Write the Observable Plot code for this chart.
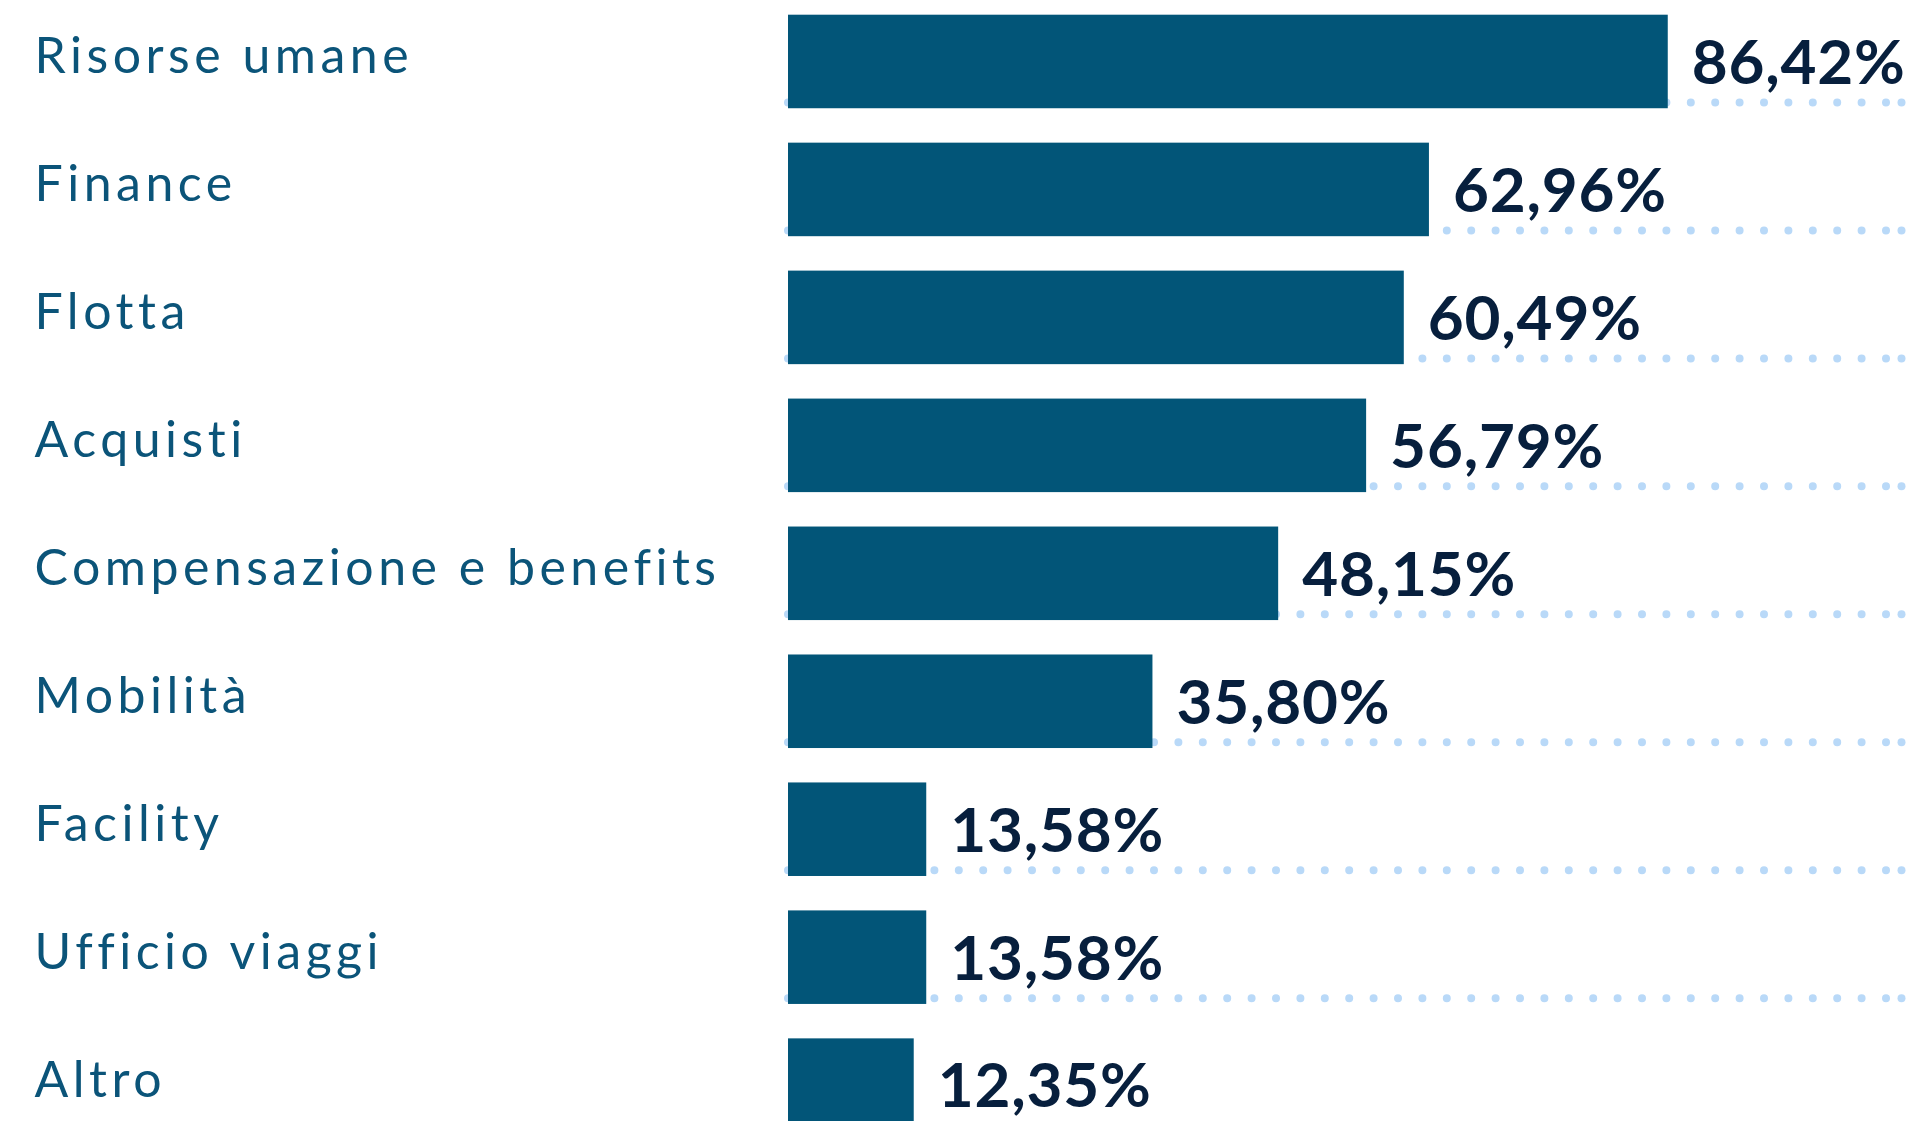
<!DOCTYPE html>
<html>
<head>
<meta charset="utf-8">
<script src="https://cdn.jsdelivr.net/npm/d3@7"></script>
<script src="https://cdn.jsdelivr.net/npm/@observablehq/plot@0.6"></script>
<style>
  html, body { margin: 0; padding: 0; background: #ffffff; overflow: hidden; }
  #chart svg { max-width: none; display: block; }
</style>
</head>
<body>
<div id="chart"></div>
<script>
const categories = ["Risorse umane", "Finance", "Flotta", "Acquisti", "Compensazione e benefits", "Mobilità", "Facility", "Ufficio viaggi", "Altro"];
const values = [86.42, 62.96, 60.49, 56.79, 48.15, 35.80, 13.58, 13.58, 12.35];
const valueLabels = ["86,42%", "62,96%", "60,49%", "56,79%", "48,15%", "35,80%", "13,58%", "13,58%", "12,35%"];

const data = categories.map((c, i) => ({category: c, value: values[i], label: valueLabels[i]}));

const barColor = "#025578";
const labelColor = "#0b5479";
const valueColor = "#071f3d";
const dotColor = "#b9d9f8";

const chart = Plot.plot({
  width: 1927,
  height: 1121,
  marginLeft: 788,
  marginRight: 26,
  marginTop: 0,
  marginBottom: 0,
  style: {background: "#ffffff", overflow: "hidden"},
  x: {domain: [0, 100], range: [788, 1806], axis: null},
  y: {domain: categories, range: [14.7, 1131.9], paddingInner: 0.269, paddingOuter: 0, round: false, axis: null},
  marks: [
    Plot.ruleY(data, {y: "category", stroke: dotColor, strokeWidth: 8, strokeLinecap: "round", strokeDasharray: "0,24.4", dy: 40.5}),
    Plot.dot(data, {y: "category", frameAnchor: "right", r: 4, fill: dotColor, dy: 40.5}),
    Plot.barX(data, {x: "value", y: "category", fill: barColor}),
    Plot.text(data, {y: "category", text: "category", frameAnchor: "left", textAnchor: "start", dx: -754, dy: -4.9, fill: labelColor, fontSize: 50, fontFamily: "Lato", fontWeight: 400}),
    Plot.text(data, {x: "value", y: "category", text: "label", textAnchor: "start", dx: 23.5, dy: 2, fill: valueColor, fontSize: 62, fontFamily: "Lato", fontWeight: 700})
  ]
});
d3.select(chart).selectAll("g[font-size='50'] text").style("letter-spacing", "4.5px");
d3.select(chart).selectAll("g[font-size='62'] text").style("letter-spacing", "0.8px");
document.getElementById("chart").appendChild(chart);
</script>
</body>
</html>
